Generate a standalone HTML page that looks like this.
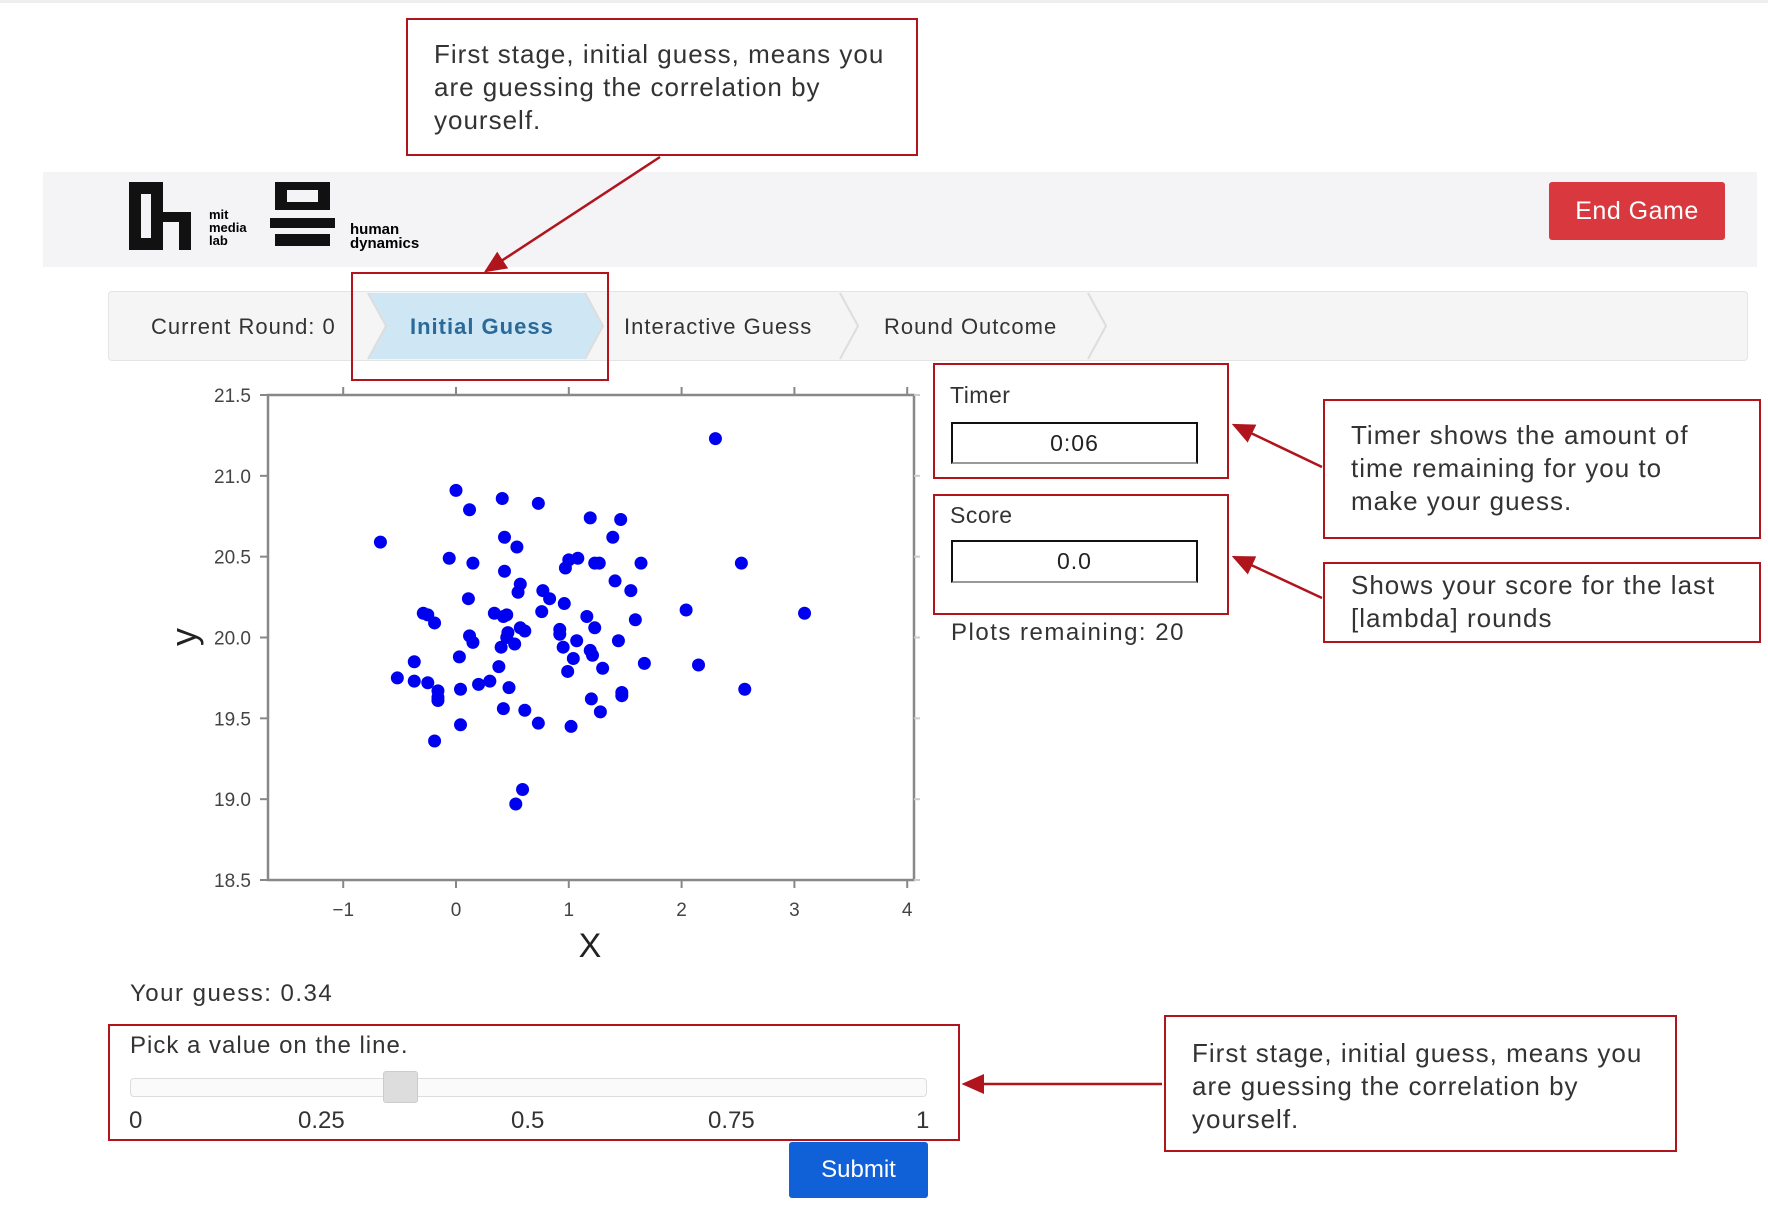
<!DOCTYPE html>
<html><head><meta charset="utf-8"><style>
body{margin:0;width:1768px;height:1214px;background:#fff;position:relative;overflow:hidden;font-family:"Liberation Sans",sans-serif;color:#222}
.a{position:absolute;box-sizing:border-box}
.rb{border:2px solid #b0141c}
.note{font-size:26px;line-height:33px;color:#333;letter-spacing:1px}
.lbl{font-size:22px;color:#333}
.inp{border:2px solid #111;border-bottom-color:#999;font-size:23px;text-align:center;line-height:38px;background:#fff;letter-spacing:1px}
</style></head><body>
<div class="a" style="left:0;top:0;width:1768px;height:3px;background:#eee"></div>
<div class="a rb note" style="left:406px;top:18px;width:512px;height:138px;padding:18px 0 0 26px">First stage, initial guess, means you<br>are guessing the correlation by<br>yourself.</div>
<div class="a" style="left:43px;top:172px;width:1714px;height:95px;background:#f4f4f6"></div>
<svg class="a" style="left:125px;top:178px" width="320" height="76">
<path d="M4 4h34v30h28v38h-12V44H38v28H4z M16 16v44h10V16z" fill="#111"/>
<text x="84" y="41" font-size="13" font-weight="bold" font-family="Liberation Sans">mit</text>
<text x="84" y="54" font-size="13" font-weight="bold" font-family="Liberation Sans">media</text>
<text x="84" y="67" font-size="13" font-weight="bold" font-family="Liberation Sans">lab</text>
<rect x="150" y="4" width="55" height="8" fill="#111"/><rect x="150" y="12" width="12" height="14" fill="#111"/><rect x="193" y="12" width="12" height="14" fill="#111"/><rect x="150" y="24" width="55" height="8" fill="#111"/><rect x="145" y="40" width="65" height="10" fill="#111"/><rect x="150" y="56" width="55" height="12" fill="#111"/>
<text x="225" y="56" font-size="15" font-weight="bold" font-family="Liberation Sans">human</text>
<text x="225" y="70" font-size="15" font-weight="bold" font-family="Liberation Sans">dynamics</text>
</svg>
<div class="a" style="left:1549px;top:182px;width:176px;height:58px;background:#d9393e;color:#fff;font-size:25px;line-height:58px;text-align:center;border-radius:3px;letter-spacing:0.5px">End Game</div>
<div class="a" style="left:108px;top:291px;width:1640px;height:70px;background:#f5f5f5;border:1px solid #e4e4e4;border-radius:4px"></div>
<svg class="a" style="left:0;top:291px" width="1768" height="70">
<polygon points="368,2 585,2 603,35 585,68 368,68 386,35" fill="#cfe6f4"/>
<polyline points="368,2 386,35 368,68" fill="none" stroke="#ddd" stroke-width="2"/>
<polyline points="585,2 603,35 585,68" fill="none" stroke="#ddd" stroke-width="2"/>
<polyline points="840,2 858,35 840,68" fill="none" stroke="#ddd" stroke-width="2"/>
<polyline points="1088,2 1106,35 1088,68" fill="none" stroke="#ddd" stroke-width="2"/>
</svg>
<div class="a lbl" style="left:151px;top:314px;letter-spacing:1px">Current Round: 0</div>
<div class="a lbl" style="left:410px;top:314px;color:#2b6a98;font-weight:bold;letter-spacing:1px">Initial Guess</div>
<div class="a lbl" style="left:624px;top:314px;letter-spacing:1px">Interactive Guess</div>
<div class="a lbl" style="left:884px;top:314px;letter-spacing:1px">Round Outcome</div>
<div class="a rb" style="left:351px;top:272px;width:258px;height:109px"></div>

<svg class="a" id="plot" style="left:0;top:0" width="1768" height="1214"></svg>

<div class="a rb" style="left:933px;top:363px;width:296px;height:116px"></div>
<div class="a lbl" style="left:950px;top:382px;font-size:23px;letter-spacing:0.5px">Timer</div>
<div class="a inp" style="left:951px;top:422px;width:247px;height:42px">0:06</div>
<div class="a rb" style="left:933px;top:494px;width:296px;height:121px"></div>
<div class="a lbl" style="left:950px;top:502px;font-size:23px;letter-spacing:0.5px">Score</div>
<div class="a inp" style="left:951px;top:540px;width:247px;height:43px">0.0</div>
<div class="a lbl" style="left:951px;top:619px;font-size:24px;letter-spacing:1.5px">Plots remaining: 20</div>
<div class="a rb note" style="left:1323px;top:399px;width:438px;height:140px;padding:18px 0 0 26px">Timer shows the amount of<br>time remaining for you to<br>make your guess.</div>
<div class="a rb note" style="left:1323px;top:562px;width:438px;height:81px;padding:5px 0 0 26px">Shows your score for the last<br>[lambda] rounds</div>

<div class="a lbl" style="left:130px;top:980px;font-size:24px;letter-spacing:1.5px">Your guess: 0.34</div>
<div class="a rb" style="left:108px;top:1024px;width:852px;height:117px"></div>
<div class="a lbl" style="left:130px;top:1032px;font-size:24px;letter-spacing:1px">Pick a value on the line.</div>
<div class="a" style="left:130px;top:1078px;width:797px;height:19px;border:1px solid #ddd;border-radius:4px;background:#fafafa"></div>
<div class="a" style="left:383px;top:1071px;width:35px;height:32px;background:#ddd;border:1px solid #ccc;border-radius:3px"></div>
<div class="a lbl" style="left:129px;top:1107px;font-size:24px">0</div>
<div class="a lbl" style="left:298px;top:1107px;font-size:24px">0.25</div>
<div class="a lbl" style="left:511px;top:1107px;font-size:24px">0.5</div>
<div class="a lbl" style="left:708px;top:1107px;font-size:24px">0.75</div>
<div class="a lbl" style="left:916px;top:1107px;font-size:24px">1</div>
<div class="a" style="left:789px;top:1142px;width:139px;height:56px;background:#1060d8;color:#fff;font-size:24px;line-height:56px;text-align:center;border-radius:3px">Submit</div>
<div class="a rb note" style="left:1164px;top:1015px;width:513px;height:137px;padding:20px 0 0 26px">First stage, initial guess, means you<br>are guessing the correlation by<br>yourself.</div>

<script>
const xs=[2.30,0.0,0.41,0.73,0.12,1.19,1.46,-0.67,0.43,0.54,1.39,-0.06,0.15,0.97,1.0,1.08,1.23,1.27,1.64,2.53,0.43,1.41,0.57,0.55,1.55,0.77,0.83,0.11,0.96,0.76,2.04,3.09,-0.29,-0.25,-0.19,0.34,0.45,0.42,1.16,1.59,1.23,0.57,0.61,0.46,0.45,0.92,0.92,0.12,0.15,1.07,1.44,0.40,0.52,0.95,1.19,1.21,0.03,1.04,-0.37,0.38,1.30,1.67,2.15,0.99,-0.52,-0.37,-0.25,-0.16,-0.16,-0.16,0.04,0.20,0.30,0.47,2.56,1.47,1.47,1.20,1.28,0.42,0.61,0.73,1.02,0.04,-0.19,0.59,0.53];
const ys=[21.23,20.91,20.86,20.83,20.79,20.74,20.73,20.59,20.62,20.56,20.62,20.49,20.46,20.43,20.48,20.49,20.46,20.46,20.46,20.46,20.41,20.35,20.33,20.28,20.29,20.29,20.24,20.24,20.21,20.16,20.17,20.15,20.15,20.14,20.09,20.15,20.14,20.13,20.13,20.11,20.06,20.06,20.04,20.03,20.0,20.05,20.02,20.01,19.97,19.98,19.98,19.94,19.96,19.94,19.92,19.89,19.88,19.87,19.85,19.82,19.81,19.84,19.83,19.79,19.75,19.73,19.72,19.67,19.61,19.63,19.68,19.71,19.73,19.69,19.68,19.66,19.64,19.62,19.54,19.56,19.55,19.47,19.45,19.46,19.36,19.06,18.97];
const xTicks=[-1,0,1,2,3,4];
const xTickLabels=["\u22121","0","1","2","3","4"];
const yTicks=[18.5,19.0,19.5,20.0,20.5,21.0,21.5];
const yTickLabels=["18.5","19.0","19.5","20.0","20.5","21.0","21.5"];
const NS="http://www.w3.org/2000/svg";
const svg=document.getElementById('plot');
const L=268,R=914,T=395,B=880;
const X=v=>456+v*112.8;
const Y=v=>T+(21.5-v)*(B-T)/3;
function mk(t,a){const e=document.createElementNS(NS,t);for(const k in a)e.setAttribute(k,a[k]);svg.appendChild(e);return e;}
const fr=mk('rect',{x:L,y:T,width:R-L,height:B-T,fill:'#fff',stroke:'#888','stroke-width':2.5});


xTicks.forEach((v,i)=>{
 const x=X(v);
 mk('line',{x1:x,y1:B,x2:x,y2:B+8,stroke:'#888','stroke-width':2});
 mk('line',{x1:x,y1:T,x2:x,y2:T-8,stroke:'#888','stroke-width':2});
 const t=mk('text',{x:x,y:B+36,'font-size':19,'text-anchor':'middle',fill:'#444','font-family':'Liberation Sans'});
 t.textContent=xTickLabels[i];
 
 
});
yTicks.forEach((v,i)=>{
 const y=Y(v);
 mk('line',{x1:L,y1:y,x2:L-8,y2:y,stroke:'#888','stroke-width':2});
 mk('line',{x1:R,y1:y,x2:R+6,y2:y,stroke:'#ccc','stroke-width':2});
 const t=mk('text',{x:251,y:y+7,'font-size':19,'text-anchor':'end',fill:'#444','font-family':'Liberation Sans'});
 t.textContent=yTickLabels[i];
 
 
});
const xl=mk('text',{x:590,y:957,'font-size':34,'text-anchor':'middle',fill:'#222','font-family':'Liberation Sans'});
xl.textContent='X';


const yl=mk('text',{x:0,y:0,'font-size':36,'text-anchor':'middle',fill:'#222','font-family':'Liberation Sans',transform:'translate(196,637) rotate(-90)'});
yl.textContent='y';


xs.forEach((v,i)=>{
 const c=mk('circle',{cx:X(v),cy:Y(ys[i]),r:6.5,fill:'#0000f0'});
 
 
});
mk('defs',{}).innerHTML='<marker id="ah" markerWidth="10" markerHeight="10" refX="8" refY="5" orient="auto"><path d="M0,1 L9,5 L0,9z" fill="#b0141c"/></marker>';
[[660,157,486,271],[1322,467,1234,425],[1322,598,1234,557],[1162,1084,964,1084]].forEach(a=>{
 const l=mk('line',{x1:a[0],y1:a[1],x2:a[2],y2:a[3],stroke:'#b0141c','stroke-width':2.5,'marker-end':'url(#ah)'});
 
 
});
</script>
</body></html>
